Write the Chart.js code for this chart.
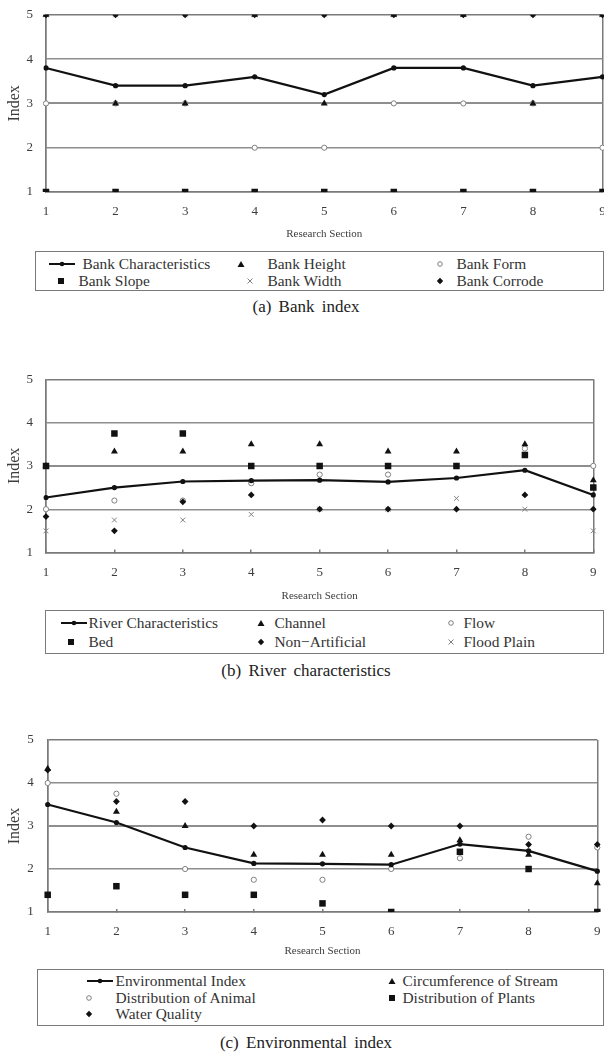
<!DOCTYPE html>
<html>
<head>
<meta charset="utf-8">
<script src="https://cdn.jsdelivr.net/npm/chart.js@4.4.1/dist/chart.umd.min.js"></script>
<style>
  html, body { margin:0; padding:0; background:#fff; }
  body { width:604px; height:1059px; overflow:hidden; position:relative; font-family:"Liberation Serif", serif; color:#333; }
  canvas.plot { position:absolute; left:0; }
  .legend { position:absolute; border:1.5px solid #7a7a7a; box-sizing:border-box; }
  .item { position:absolute; white-space:nowrap; font-size:15.4px; line-height:16px; color:#333; }
  .mark { position:absolute; line-height:0; }
  .mark svg { display:block; }
  .caption { position:absolute; left:0; width:612px; text-align:center; font-size:17px; color:#222; word-spacing:3px; line-height:20px; }
</style>
</head>
<body>
<canvas id="chartA" class="plot" width="640" height="247" style="top:-6px"></canvas>
<canvas id="chartB" class="plot" width="640" height="263" style="top:340px"></canvas>
<canvas id="chartC" class="plot" width="640" height="258" style="top:700px"></canvas>

<div id="legendA" class="legend" style="left:35px;top:251px;width:569px;height:40px"></div>
<div class="caption" style="top:297px">(a) Bank index</div>

<div id="legendB" class="legend" style="left:45px;top:610px;width:559px;height:44px"></div>
<div class="caption" style="top:661px">(b) River characteristics</div>

<div id="legendC" class="legend" style="left:37px;top:969px;width:567px;height:57px"></div>
<div class="caption" style="top:1033px">(c) Environmental index</div>

<script>
// Research sections along the x axis and index ticks on the y axis
const sections = ['1', '2', '3', '4', '5', '6', '7', '8', '9'];
const indexTicks = [1, 2, 3, 4, 5];

// (a) Bank index
const bankCharacteristics = [3.8, 3.4, 3.4, 3.6, 3.2, 3.8, 3.8, 3.4, 3.6];
const bankHeight  = [5, 3, 3, 5, 3, 5, 5, 3, 5];
const bankForm    = [3, 3, 3, 2, 2, 3, 3, 3, 2];
const bankSlope   = [1, 1, 1, 1, 1, 1, 1, 1, 1];
const bankWidth   = [5, 5, 5, 5, 5, 5, 5, 5, 5];
const bankCorrode = [5, 5, 5, 5, 5, 5, 5, 5, 5];

// (b) River characteristics
const riverCharacteristics = [2.27, 2.5, 2.64, 2.66, 2.67, 2.63, 2.72, 2.9, 2.33];
const channel       = [3, 3.33, 3.33, 3.5, 3.5, 3.33, 3.33, 3.5, 2.67];
const flow          = [2, 2.2, 2.2, 2.6, 2.8, 2.8, 3, 3.4, 3];
const bed           = [3, 3.75, 3.75, 3, 3, 3, 3, 3.25, 2.5];
const nonArtificial = [1.83, 1.5, 2.17, 2.33, 2, 2, 2, 2.33, 2];
const floodPlain    = [1.5, 1.75, 1.75, 1.88, 2, 2, 2.25, 2, 1.5];

// (c) Environmental index
const environmentalIndex = [3.5, 3.08, 2.5, 2.13, 2.12, 2.1, 2.58, 2.42, 1.95];
const circumference      = [4.33, 3.33, 3, 2.33, 2.33, 2.33, 2.67, 2.33, 1.67];
const animalDistribution = [4, 3.75, 2, 1.75, 1.75, 2, 2.25, 2.75, 2.5];
const plantDistribution  = [1.4, 1.6, 1.4, 1.4, 1.2, 1, 2.4, 2, 1];
const waterQuality       = [4.3, 3.57, 3.57, 3, 3.14, 3, 3, 2.57, 2.57];

const GRID = '#8e8e8e', FRAME = '#7a7a7a', INK = '#3c3c3c', MARK = '#111', SOFT = '#808080';
const SERIF = '"Liberation Serif", serif';

// marker styles shared by plot and legend; lower order is painted on top
const STYLES = {
  line:     { pointStyle: 'circle',   radius: 2.6, fill: MARK, stroke: MARK, bw: 0, order: 0 },
  square:   { pointStyle: 'rect',     radius: 4.6, fill: MARK, stroke: MARK, bw: 0, order: 1 },
  triangle: { pointStyle: 'triangle', radius: 4,   fill: MARK, stroke: MARK, bw: 0, order: 2 },
  diamond:  { pointStyle: 'rectRot',  radius: 3.4, fill: MARK, stroke: MARK, bw: 0, order: 3 },
  circle:   { pointStyle: 'circle',   radius: 2.6, fill: '#fff', stroke: SOFT, bw: 1, order: 4 },
  cross:    { pointStyle: 'crossRot', radius: 3.4, fill: SOFT, stroke: SOFT, bw: 1, order: 5 }
};

function series(label, data, kind) {
  const s = STYLES[kind];
  const ds = {
    label, data,
    pointStyle: s.pointStyle, pointRadius: s.radius, pointHoverRadius: s.radius,
    pointBackgroundColor: s.fill, pointBorderColor: s.stroke, pointBorderWidth: s.bw,
    showLine: false, order: s.order
  };
  if (kind === 'line') {
    Object.assign(ds, { showLine: true, borderColor: MARK, borderWidth: 2.2, tension: 0 });
  }
  return ds;
}

function buildChart(id, geom, datasets) {
  return new Chart(document.getElementById(id), {
    type: 'line',
    data: { labels: sections, datasets },
    options: {
      responsive: false, animation: false, devicePixelRatio: 1,
      layout: { padding: { top: geom.top, right: geom.right, left: 0, bottom: 0 } },
      plugins: { legend: { display: false }, tooltip: { enabled: false } },
      scales: {
        x: {
          type: 'category', offset: false,
          grid: {
            drawTicks: true, tickLength: -3, tickColor: FRAME, lineWidth: 1.5,
            color: c => (c.index === 0 || c.index === sections.length - 1) ? FRAME : 'rgba(0,0,0,0)'
          },
          border: { display: true, color: FRAME, width: 1.5 },
          ticks: { padding: geom.xPad + 3, color: INK, font: { family: SERIF, size: 13 }, maxRotation: 0, autoSkip: false },
          title: { display: true, text: 'Research Section', color: INK, font: { family: SERIF, size: 11 }, padding: { top: 0, bottom: 0 } },
          afterFit: s => { s.height = geom.xHeight; }
        },
        y: {
          min: indexTicks[0], max: indexTicks[indexTicks.length - 1],
          afterBuildTicks: s => { s.ticks = indexTicks.map(v => ({ value: v })); },
          ticks: { padding: geom.yPad, color: INK, font: { family: SERIF, size: 13 } },
          grid: {
            drawTicks: false,
            color: c => (c.tick && (c.tick.value === 1 || c.tick.value === 5)) ? FRAME : GRID,
            lineWidth: c => (c.tick && c.tick.value === 3) ? 2.1 : 1.4
          },
          border: { display: true, color: FRAME, width: 1.5 },
          title: { display: true, text: 'Index', color: INK, font: { family: SERIF, size: 16 }, padding: { top: 5, bottom: 0 } },
          afterFit: s => { s.width = geom.left; }
        }
      }
    }
  });
}

buildChart('chartA', { top: 20, right: 640 - 602.5, left: 46, xHeight: 49, xPad: 12, yPad: 13 }, [
  series('Bank Characteristics', bankCharacteristics, 'line'),
  series('Bank Height', bankHeight, 'triangle'),
  series('Bank Form', bankForm, 'circle'),
  series('Bank Slope', bankSlope, 'square'),
  series('Bank Width', bankWidth, 'cross'),
  series('Bank Corrode', bankCorrode, 'diamond')
]);

buildChart('chartB', { top: 39.3, right: 640 - 593.3, left: 46, xHeight: 50.5, xPad: 12, yPad: 13 }, [
  series('River Characteristics', riverCharacteristics, 'line'),
  series('Channel', channel, 'triangle'),
  series('Flow', flow, 'circle'),
  series('Bed', bed, 'square'),
  series('Non-Artificial', nonArtificial, 'diamond'),
  series('Flood Plain', floodPlain, 'cross')
]);

buildChart('chartC', { top: 40, right: 640 - 597.3, left: 47.7, xHeight: 46, xPad: 12, yPad: 14 }, [
  series('Environmental Index', environmentalIndex, 'line'),
  series('Circumference of Stream', circumference, 'triangle'),
  series('Distribution of Animal', animalDistribution, 'circle'),
  series('Distribution of Plants', plantDistribution, 'square'),
  series('Water Quality', waterQuality, 'diamond')
]);

// legend glyphs drawn as small inline svg
function glyph(kind) {
  switch (kind) {
    case 'line':
      return '<svg width="26" height="8"><line x1="0" y1="4" x2="26" y2="4" stroke="#111" stroke-width="2"/><circle cx="13" cy="4" r="2.3" fill="#111"/></svg>';
    case 'triangle':
      return '<svg width="8" height="8"><polygon points="4,1 7.5,7 0.5,7" fill="#111"/></svg>';
    case 'circle':
      return '<svg width="8" height="8"><circle cx="4" cy="4" r="2.3" fill="#fff" stroke="#808080" stroke-width="1"/></svg>';
    case 'square':
      return '<svg width="8" height="8"><rect x="1" y="1" width="6" height="6" fill="#111"/></svg>';
    case 'cross':
      return '<svg width="8" height="8"><path d="M1.5 1.5 L6.5 6.5 M6.5 1.5 L1.5 6.5" stroke="#808080" stroke-width="1"/></svg>';
    case 'diamond':
      return '<svg width="8" height="8"><polygon points="4,0.8 7.2,4 4,7.2 0.8,4" fill="#111"/></svg>';
  }
}

// each entry: [label, kind, markerCenterX, textX, rowCenterY] in page coordinates
function fillLegend(id, entries) {
  const box = document.getElementById(id);
  const bx = parseFloat(box.style.left), by = parseFloat(box.style.top);
  entries.forEach(([label, kind, mx, tx, ry]) => {
    const w = kind === 'line' ? 26 : 8;
    const m = document.createElement('div');
    m.className = 'mark';
    m.style.left = (mx - bx - w / 2 - 1.5) + 'px';
    m.style.top = (ry - by - 4 - 1.5) + 'px';
    m.innerHTML = glyph(kind);
    box.appendChild(m);
    const t = document.createElement('div');
    t.className = 'item';
    t.style.left = (tx - bx - 1.5) + 'px';
    t.style.top = (ry - by - 8 - 1.5) + 'px';
    t.textContent = label;
    box.appendChild(t);
  });
}

fillLegend('legendA', [
  ['Bank Characteristics', 'line', 62, 83, 264],
  ['Bank Height', 'triangle', 241, 268, 264],
  ['Bank Form', 'circle', 440, 457, 264],
  ['Bank Slope', 'square', 61, 79, 281],
  ['Bank Width', 'cross', 250, 268, 281],
  ['Bank Corrode', 'diamond', 440, 457, 281]
]);

fillLegend('legendB', [
  ['River Characteristics', 'line', 74, 89, 623],
  ['Channel', 'triangle', 261, 275, 623],
  ['Flow', 'circle', 451, 464, 623],
  ['Bed', 'square', 71, 89, 642],
  ['Non\u2212Artificial', 'diamond', 261, 275, 642],
  ['Flood Plain', 'cross', 451, 464, 642]
]);

fillLegend('legendC', [
  ['Environmental Index', 'line', 100, 116, 981],
  ['Circumference of Stream', 'triangle', 392, 403, 981],
  ['Distribution of Animal', 'circle', 89, 116, 998],
  ['Distribution of Plants', 'square', 392, 403, 998],
  ['Water Quality', 'diamond', 89, 116, 1014]
]);
</script>
</body>
</html>
